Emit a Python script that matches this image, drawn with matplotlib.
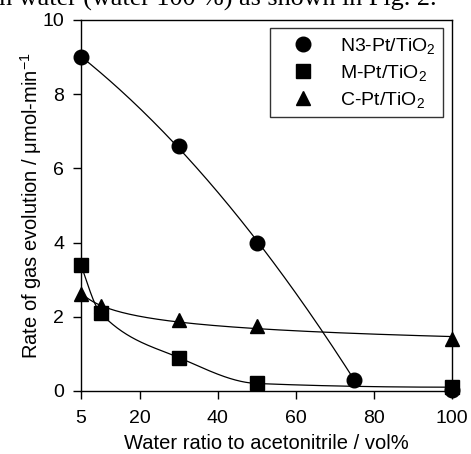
import numpy as np
import matplotlib
matplotlib.use('Agg')
import matplotlib.pyplot as plt

plt.rcParams['font.family'] = ['Liberation Sans', 'DejaVu Sans']
plt.rcParams['mathtext.fontset'] = 'custom'
plt.rcParams['mathtext.rm'] = 'Liberation Sans'
plt.rcParams['mathtext.it'] = 'Liberation Sans'

# values
n3_x = [5, 30, 50, 75, 100]
n3_rate = [9.0, 6.6, 4.0, 0.3, 0.02]
m_x = [5, 10, 30, 50, 100]
m_rate = [3.4, 2.1, 0.9, 0.2, 0.1]
c_x = [5, 10, 30, 50, 100]
c_rate = [2.6, 2.3, 1.9, 1.75, 1.4]
x_ticks = [5, 20, 40, 60, 80, 100]
y_ticks = [0, 2, 4, 6, 8, 10]


def pchip(x, y, xn):
    # monotone piecewise cubic through the points
    x = np.asarray(x, float)
    y = np.asarray(y, float)
    h = np.diff(x)
    d = np.diff(y) / h
    n = len(x)
    m = np.zeros(n)
    for k in range(1, n - 1):
        if d[k - 1] * d[k] > 0:
            w1 = 2 * h[k] + h[k - 1]
            w2 = h[k] + 2 * h[k - 1]
            m[k] = (w1 + w2) / (w1 / d[k - 1] + w2 / d[k])

    def end(h0, h1, d0, d1):
        s = ((2 * h0 + h1) * d0 - h0 * d1) / (h0 + h1)
        if np.sign(s) != np.sign(d0):
            s = 0.0
        elif np.sign(d0) != np.sign(d1) and abs(s) > abs(3 * d0):
            s = 3 * d0
        return s

    m[0] = end(h[0], h[1], d[0], d[1])
    m[-1] = end(h[-1], h[-2], d[-1], d[-2])
    idx = np.clip(np.searchsorted(x, xn) - 1, 0, n - 2)
    t = (xn - x[idx]) / h[idx]
    h00 = 2 * t**3 - 3 * t**2 + 1
    h10 = t**3 - 2 * t**2 + t
    h01 = -2 * t**3 + 3 * t**2
    h11 = t**3 - t**2
    return h00 * y[idx] + h10 * h[idx] * m[idx] + h01 * y[idx + 1] + h11 * h[idx] * m[idx + 1]


fig = plt.figure(figsize=(4.71, 4.54), dpi=100)
ax = fig.add_axes([0.172, 0.139, 0.788, 0.817])

# guide curves
xx = np.linspace(5, 75, 200)
ax.plot(xx, np.polyval(np.polyfit(n3_x[:4], n3_rate[:4], 2), xx), color='black', lw=0.9)
xx = np.linspace(5, 100, 400)
ax.plot(xx, pchip(m_x, m_rate, xx), color='black', lw=0.9)
cc = np.polyfit(np.log(c_x), np.log(c_rate), 1)
ax.plot(xx, np.exp(np.polyval(cc, np.log(xx))), color='black', lw=0.9)

ax.plot(n3_x, n3_rate, 'o', color='black', ms=10.5, clip_on=False, label='N3-Pt/TiO$_2$')
ax.plot(m_x, m_rate, 's', color='black', ms=10.5, clip_on=False, label='M-Pt/TiO$_2$')
ax.plot(c_x, c_rate, '^', color='black', ms=10.5, clip_on=False, label='C-Pt/TiO$_2$')

ax.set_xlim(5, 100)
ax.set_ylim(0, 10)
ax.set_xticks(x_ticks)
ax.set_yticks(y_ticks)
ax.tick_params(direction='out', length=6, width=1, labelsize=14)
ax.tick_params(axis='x', pad=8)
ax.tick_params(axis='y', pad=6)
for s in ax.spines.values():
    s.set_linewidth(1)

ax.set_xlabel('Water ratio to acetonitrile / vol%', fontsize=14.5, labelpad=5)
ax.set_ylabel('Rate of gas evolution / \u03bcmol-min$^{-1}$', fontsize=14.5, labelpad=-1)

leg = ax.legend(loc='upper right', bbox_to_anchor=(0.976, 0.978), borderaxespad=0,
                fontsize=14, frameon=True, fancybox=False, edgecolor='black',
                borderpad=0.4, handletextpad=0.6, labelspacing=0.35, handlelength=2.6)
leg.get_frame().set_linewidth(1)

# line of page text above the chart, cut at the top edge as in the source
fig.text(-0.017, 0.987, 'in water (water 100 %) as shown in Fig. 2.',
         family='Liberation Serif', fontsize=18.8, va='baseline', ha='left')

fig.savefig('out.png', dpi=100)
